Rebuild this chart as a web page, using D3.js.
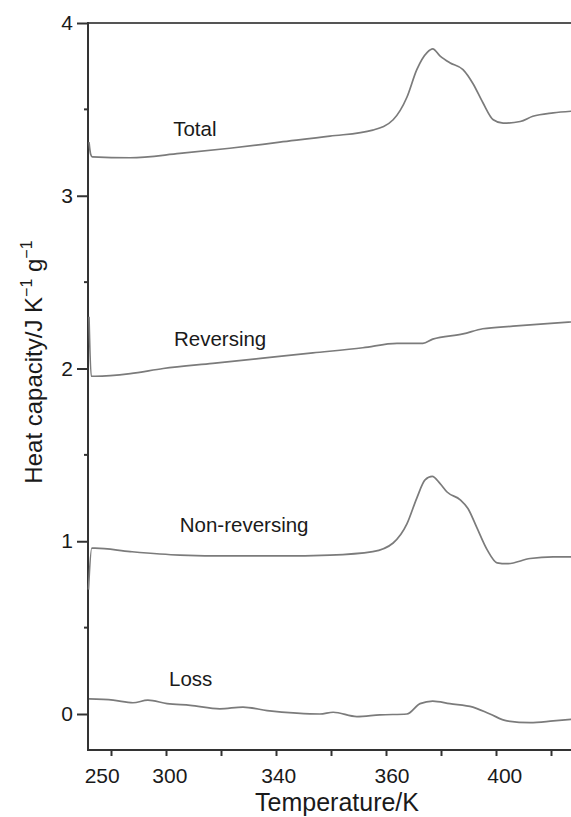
<html>
<head>
<meta charset="utf-8">
<script src="https://d3js.org/d3.v7.min.js"></script>
<style>
body { margin: 0; background: #fff; }
text { font-family: "Liberation Sans", Arial, sans-serif; fill: #1a1a1a; }
.curve { fill: none; stroke: #7b7b7b; stroke-width: 1.7px; }
</style>
</head>
<body>
<div id="chart"></div>
<script>
// x is in tick steps (the printed temperature labels are not evenly spaced)
var totalCp = [[-0.40,3.31],[-0.37,3.24],[-0.34,3.225],[0.35,3.22],[1.25,3.245],[2.16,3.275],[3.07,3.31],[3.98,3.345],[4.76,3.38],[5.13,3.44],[5.38,3.57],[5.56,3.73],[5.75,3.83],[5.85,3.85],[5.98,3.81],[6.16,3.77],[6.40,3.73],[6.58,3.65],[6.76,3.54],[6.95,3.44],[7.13,3.42],[7.44,3.43],[7.67,3.46],[8.04,3.48],[8.40,3.49]];
var reversingCp = [[-0.40,2.30],[-0.36,1.955],[-0.29,1.955],[0.35,1.97],[0.95,2.0],[1.85,2.03],[2.76,2.06],[3.67,2.09],[4.58,2.12],[5.2,2.145],[5.67,2.145],[5.85,2.17],[6.4,2.2],[6.76,2.23],[7.31,2.245],[7.93,2.26],[8.40,2.27]];
var nonReversingCp = [[-0.41,0.72],[-0.35,0.96],[-0.29,0.96],[0.35,0.94],[1.25,0.92],[2.16,0.915],[3.07,0.915],[3.98,0.92],[4.76,0.94],[5.13,0.99],[5.38,1.10],[5.56,1.25],[5.71,1.355],[5.84,1.375],[5.98,1.335],[6.11,1.285],[6.35,1.24],[6.49,1.19],[6.65,1.08],[6.84,0.95],[7.02,0.875],[7.2,0.87],[7.62,0.90],[8.04,0.91],[8.40,0.91]];
var lossCp = [[-0.40,0.087],[0.04,0.08],[0.4,0.065],[0.67,0.08],[1.02,0.06],[1.44,0.05],[1.98,0.03],[2.4,0.04],[2.84,0.02],[3.38,0.005],[3.8,0.0],[4.04,0.01],[4.47,-0.015],[4.89,-0.005],[5.38,0.0],[5.62,0.06],[5.85,0.075],[6.16,0.06],[6.58,0.04],[6.89,0.0],[7.2,-0.04],[7.62,-0.05],[8.04,-0.04],[8.40,-0.03]];

var seriesNames = ["Total", "Reversing", "Non-reversing", "Loss"];
var seriesLabelAt = [[1.13,3.346],[1.145,2.13],[1.25,1.054],[1.055,0.162]];

var xTicks = [0,1,2,3,4,5,6,7,8];
var xTickLabels = ["250","300","340","360","400"];
var xTickLabelAt = [-0.16,1.07,3.05,5.11,7.16];
var yTicks = [0,1,2,3,4];
var yMinorTicks = [0.5,1.5,2.5,3.5];

var W = 571, H = 817;

var svg = d3.select("#chart").append("svg")
    .attr("width", W)
    .attr("height", H);

var x = d3.scaleLinear().domain([0, 8]).range([111, 551]);
var y = d3.scaleLinear().domain([0, 4]).range([714, 23]);
var left = x(-0.418), bottom = 750;

// frame: top line, left axis, bottom axis
svg.append("line")
    .attr("x1", left).attr("x2", W + 5)
    .attr("y1", y(4)).attr("y2", y(4))
    .attr("stroke", "#555").attr("stroke-width", 2);

svg.append("line")
    .attr("x1", left).attr("x2", left)
    .attr("y1", y(4) - 1).attr("y2", bottom)
    .attr("stroke", "#333").attr("stroke-width", 2);

svg.append("line")
    .attr("x1", left - 1).attr("x2", W + 5)
    .attr("y1", bottom).attr("y2", bottom)
    .attr("stroke", "#333").attr("stroke-width", 2);

// y axis ticks
var yAxis = d3.axisLeft(y).tickValues(yTicks).tickSize(11).tickPadding(4)
    .tickFormat(d3.format("d"));
var gy = svg.append("g")
    .attr("transform", "translate(" + left + ",0)")
    .call(yAxis);
gy.select(".domain").remove();
gy.selectAll(".tick line").attr("stroke", "#333").attr("stroke-width", 2);
gy.selectAll(".tick text").style("font-size", "21px").attr("fill", "#1a1a1a")
    .attr("font-family", null);

svg.append("g").selectAll("line")
    .data(yMinorTicks)
    .enter().append("line")
      .attr("x1", left - 4).attr("x2", left)
      .attr("y1", function(d) { return y(d); })
      .attr("y2", function(d) { return y(d); })
      .attr("stroke", "#333").attr("stroke-width", 2);

// x axis ticks
var xAxis = d3.axisBottom(x).tickValues(xTicks).tickSize(6).tickFormat("");
var gx = svg.append("g")
    .attr("transform", "translate(0," + bottom + ")")
    .call(xAxis);
gx.select(".domain").remove();
gx.selectAll(".tick line").attr("stroke", "#333").attr("stroke-width", 2);

svg.append("g").selectAll("text")
    .data(xTickLabels)
    .enter().append("text")
      .attr("x", function(d, i) { return x(xTickLabelAt[i]); })
      .attr("y", bottom + 33)
      .attr("text-anchor", "middle")
      .style("font-size", "21px")
      .text(function(d) { return d; });

// curves
var line = d3.line()
    .x(function(d) { return x(d[0]); })
    .y(function(d) { return y(d[1]); })
    .curve(d3.curveMonotoneX);

[totalCp, reversingCp, nonReversingCp, lossCp].forEach(function(s) {
  svg.append("path")
      .attr("class", "curve")
      .attr("d", line(s));
});

svg.append("g").selectAll("text")
    .data(seriesNames)
    .enter().append("text")
      .attr("x", function(d, i) { return x(seriesLabelAt[i][0]); })
      .attr("y", function(d, i) { return y(seriesLabelAt[i][1]); })
      .style("font-size", "20.5px")
      .text(function(d) { return d; });

// axis titles
svg.append("text")
    .attr("x", 337)
    .attr("y", 811)
    .attr("text-anchor", "middle")
    .style("font-size", "25px")
    .text("Temperature/K");

var yt = svg.append("text")
    .attr("transform", "translate(42,362) rotate(-90)")
    .attr("text-anchor", "middle")
    .style("font-size", "24px");
yt.append("tspan").text("Heat capacity/J K");
yt.append("tspan").attr("dy", -10).style("font-size", "16px").text("\u22121");
yt.append("tspan").attr("dy", 10).text(" g");
yt.append("tspan").attr("dy", -10).style("font-size", "16px").text("\u22121");
</script>
</body>
</html>
